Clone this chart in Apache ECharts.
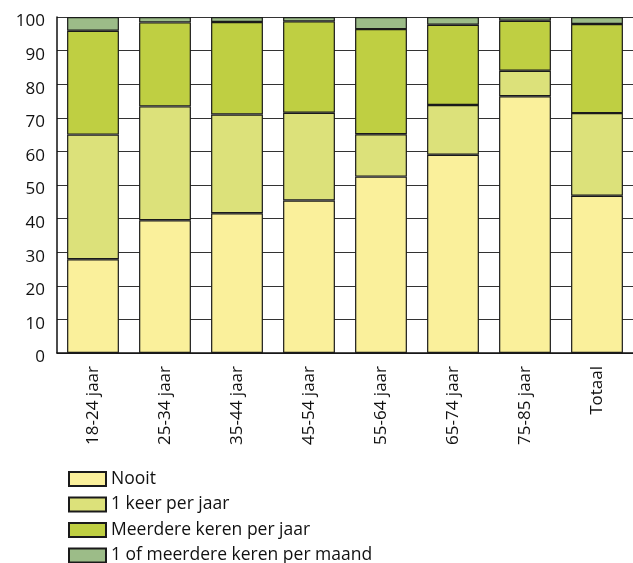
<!DOCTYPE html>
<html>
<head>
<meta charset="utf-8">
<script src="https://cdn.jsdelivr.net/npm/echarts@6/dist/echarts.min.js"></script>
<style>
html,body{margin:0;padding:0;background:#fff;}
#main{width:633px;height:563px;}
</style>
</head>
<body>
<div id="main"></div>
<script>
const categories = ['18-24 jaar','25-34 jaar','35-44 jaar','45-54 jaar','55-64 jaar','65-74 jaar','75-85 jaar','Totaal'];
const nooit     = [27.9, 39.5, 41.6, 45.4, 52.5, 59.0, 76.4, 46.8];
const eenKeer   = [37.1, 33.9, 29.4, 26.1, 12.6, 14.8, 7.6, 24.6];
const meerdere  = [30.9, 25.0, 27.5, 27.2, 31.3, 23.9, 14.9, 26.5];
const maand     = [4.1, 1.6, 1.5, 1.3, 3.6, 2.3, 1.1, 2.1];
const seriesNames = ['Nooit','1 keer per jaar','Meerdere keren per jaar','1 of meerdere keren per maand'];
const yTicks = [0,10,20,30,40,50,60,70,80,90,100];

const colors = ['#FAF09B','#DCE17A','#BFCF42','#9CBC88'];
const font = '"Open Sans", "Noto Sans", sans-serif';
const dataSets = [nooit, eenKeer, meerdere, maand];

const chart = echarts.init(document.getElementById('main'), null, {renderer:'canvas'});
chart.setOption({
  animation: false,
  grid: {left: 57, right: -2, top: 17, bottom: 210},
  legend: {
    orient: 'vertical', left: 68, top: 470, height: 110, padding: 0,
    itemWidth: 37, itemHeight: 14, itemGap: 7.5,
    icon: 'rect',
    textStyle: {fontFamily: font, fontSize: 17.5, color: '#111'},
    data: seriesNames
  },
  xAxis: {
    type: 'category', data: categories,
    axisLine: {lineStyle: {color: '#111', width: 1.5}},
    axisTick: {inside: true, length: 8, lineStyle: {color: '#111'}},
    axisLabel: {rotate: 90, fontFamily: font, fontSize: 17, color: '#111', margin: 13}
  },
  yAxis: {
    type: 'value', min: yTicks[0], max: yTicks[yTicks.length-1], interval: 10,
    axisLine: {show: true, lineStyle: {color: '#111', width: 1.5}},
    axisTick: {show: false},
    axisLabel: {
      fontFamily: font, fontSize: 17, color: '#111', margin: 12,
      formatter: '{a|{value}}',
      rich: {a: {fontFamily: font, fontSize: 17, color: '#111', padding: [9, 0, 0, 0]}}
    },
    splitLine: {lineStyle: {color: '#333', width: 1}}
  },
  series: seriesNames.map((n, i) => ({
    name: n, type: 'bar', stack: 'total', barWidth: '72%',
    data: dataSets[i],
    itemStyle: {color: colors[i], borderColor: '#1a1a1a', borderWidth: 1.2}
  }))
});
</script>
</body>
</html>
